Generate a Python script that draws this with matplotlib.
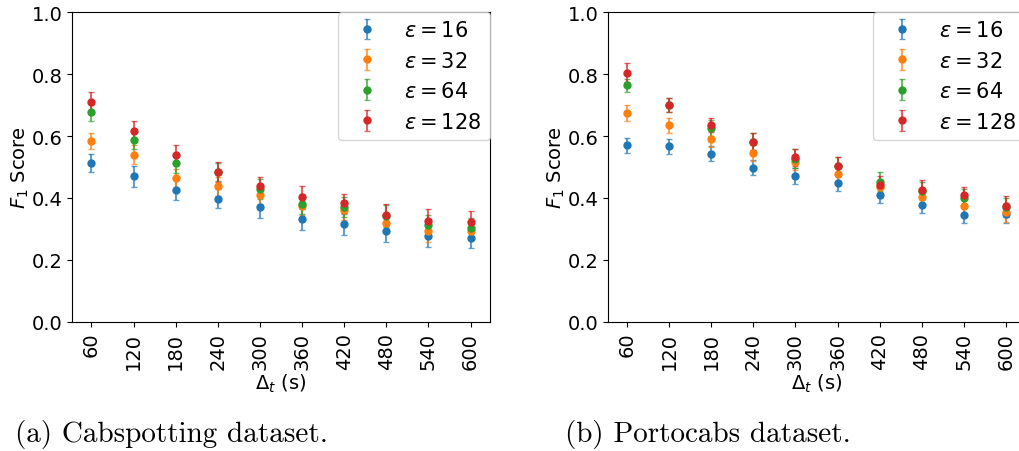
import numpy as np
import matplotlib
matplotlib.use("Agg")
import matplotlib.pyplot as plt
from matplotlib.colors import to_rgba

# Time window (s) on the x axis
deltas = ["60", "120", "180", "240", "300", "360", "420", "480", "540", "600"]
epsilons = [16, 32, 64, 128]
colors = ["#1f77b4", "#ff7f0e", "#2ca02c", "#d62728"]

# Cabspotting: mean F1 and error per epsilon
cab_f1 = {
    16: [0.512, 0.470, 0.427, 0.398, 0.370, 0.331, 0.315, 0.292, 0.276, 0.271],
    32: [0.584, 0.540, 0.463, 0.438, 0.411, 0.374, 0.360, 0.320, 0.294, 0.294],
    64: [0.676, 0.588, 0.514, 0.484, 0.428, 0.382, 0.371, 0.343, 0.312, 0.302],
    128: [0.709, 0.617, 0.540, 0.484, 0.438, 0.403, 0.383, 0.346, 0.325, 0.324],
}
cab_err = {
    16: [0.029, 0.034, 0.033, 0.031, 0.033, 0.035, 0.033, 0.033, 0.033, 0.033],
    32: [0.027, 0.030, 0.030, 0.030, 0.030, 0.030, 0.030, 0.030, 0.035, 0.030],
    64: [0.027, 0.030, 0.032, 0.030, 0.032, 0.032, 0.032, 0.035, 0.033, 0.032],
    128: [0.032, 0.031, 0.032, 0.032, 0.030, 0.036, 0.031, 0.035, 0.038, 0.034],
}

# Portocabs: mean F1 and error per epsilon
porto_f1 = {
    16: [0.570, 0.567, 0.543, 0.498, 0.472, 0.448, 0.410, 0.378, 0.346, 0.347],
    32: [0.674, 0.634, 0.591, 0.545, 0.515, 0.476, 0.434, 0.404, 0.374, 0.354],
    64: [0.763, 0.700, 0.626, 0.582, 0.527, 0.502, 0.453, 0.422, 0.400, 0.371],
    128: [0.804, 0.700, 0.635, 0.582, 0.531, 0.503, 0.443, 0.427, 0.409, 0.373],
}
porto_err = {
    16: [0.025, 0.024, 0.024, 0.023, 0.026, 0.025, 0.026, 0.026, 0.027, 0.027],
    32: [0.025, 0.025, 0.025, 0.025, 0.025, 0.025, 0.025, 0.025, 0.025, 0.030],
    64: [0.022, 0.022, 0.025, 0.027, 0.030, 0.030, 0.030, 0.030, 0.030, 0.030],
    128: [0.030, 0.021, 0.023, 0.028, 0.028, 0.028, 0.028, 0.030, 0.028, 0.033],
}

plt.rcParams["font.size"] = 14
plt.rcParams["mathtext.fontset"] = "dejavusans"

fig = plt.figure(figsize=(10.2, 4.52), dpi=100)
W, H = 1020, 452
ax1 = fig.add_axes([72 / W, (H - 323) / H, 418 / W, 310 / H])
ax2 = fig.add_axes([608 / W, (H - 323) / H, 417 / W, 310 / H])

x = np.arange(len(deltas))


def draw_panel(ax, f1, err):
    for eps, c in zip(epsilons, colors):
        ax.errorbar(x, f1[eps], yerr=err[eps], fmt="o", color=c,
                    ecolor=to_rgba(c, 0.7), markersize=5, capsize=2.5,
                    elinewidth=1.5, label=r"$\varepsilon = %d$" % eps)
    ax.set_ylim(0, 1)
    ax.set_xlim(-0.46, len(deltas) - 0.54)
    ax.set_yticks([0.0, 0.2, 0.4, 0.6, 0.8, 1.0])
    ax.set_xticks(x)
    ax.set_xticklabels(deltas, rotation=90)
    ax.set_xlabel(r"$\Delta_t$ (s)", labelpad=2)
    ax.set_ylabel(r"$F_1$ Score", labelpad=0)
    ax.legend(loc="upper right", borderaxespad=0, numpoints=1, fontsize=15)


draw_panel(ax1, cab_f1, cab_err)
draw_panel(ax2, porto_f1, porto_err)

fig.text(15 / W, 1 - 435 / H, "(a) Cabspotting dataset.", family="cmr10",
         fontsize=21, va="center")
fig.text(565 / W, 1 - 435 / H, "(b) Portocabs dataset.", family="cmr10",
         fontsize=21, va="center")

fig.savefig("out.png", dpi=100)
